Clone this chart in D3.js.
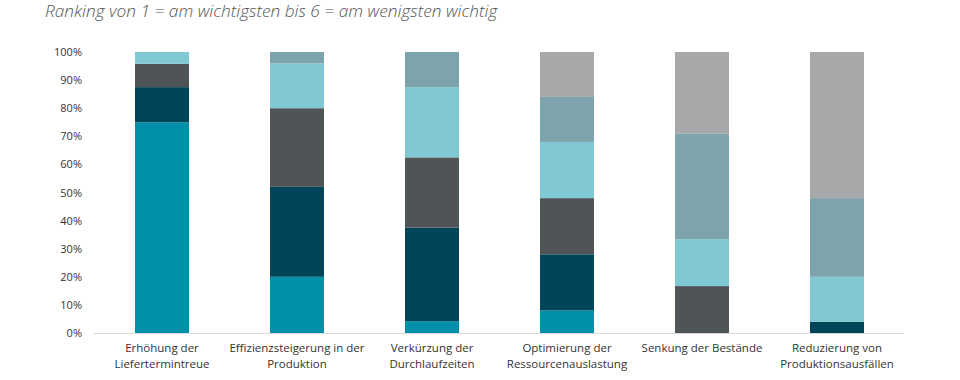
<!DOCTYPE html>
<html>
<head>
<meta charset="utf-8">
<script src="https://cdn.jsdelivr.net/npm/d3@7"></script>
<style>
  body { margin: 0; background: #fff; }
  svg { display: block; }
  .tick text { font-family: "Open Sans", sans-serif; font-size: 11px; fill: #333; }
  .xlabel { font-family: "Open Sans", sans-serif; font-size: 11.5px; fill: #333; }
  .title { font-family: "Open Sans", sans-serif; font-style: italic; font-weight: 300; font-size: 17.3px; fill: #555; }
</style>
</head>
<body>
<div id="chart"></div>
<script>
// Chart size
var svgWidth = 960;
var svgHeight = 380;

// Categories (two-line labels)
var categories = [
  ["Erhöhung der", "Liefertermintreue"],
  ["Effizienzsteigerung in der", "Produktion"],
  ["Verkürzung der", "Durchlaufzeiten"],
  ["Optimierung der", "Ressourcenauslastung"],
  ["Senkung der Bestände"],
  ["Reduzierung von", "Produktionsausfällen"]
];

// Share of each rank (in %), one array per rank
var rank1 = [75.0, 20, 4.2, 8, 0, 0];
var rank2 = [12.5, 32, 33.3, 20, 0, 4];
var rank3 = [8.3, 28, 25.0, 20, 16.7, 0];
var rank4 = [4.2, 16, 25.0, 20, 16.7, 16];
var rank5 = [0, 4, 12.5, 16, 37.5, 28];
var rank6 = [0, 0, 0, 16, 29.1, 52];

var rankKeys = ["r1", "r2", "r3", "r4", "r5", "r6"];
var rankColors = ["#0091a9", "#004558", "#4f5457", "#80c8d4", "#7da3ad", "#a6a8aa"];

var yTicks = [0, 10, 20, 30, 40, 50, 60, 70, 80, 90, 100];

// Build rows for the stack
var tableData = categories.map(function(c, i) {
  return {
    idx: i,
    r1: rank1[i], r2: rank2[i], r3: rank3[i],
    r4: rank4[i], r5: rank5[i], r6: rank6[i]
  };
});

var svg = d3.select("#chart")
  .append("svg")
  .attr("width", svgWidth)
  .attr("height", svgHeight);

// Scales
var xScale = d3.scaleBand()
  .domain(d3.range(categories.length))
  .range([94.5, 904.5])
  .paddingInner(0.6)
  .paddingOuter(0.3);

var yScale = d3.scaleLinear()
  .domain([0, 100])
  .range([333, 52]);

// Title
svg.append("text")
  .attr("class", "title")
  .attr("x", 45)
  .attr("y", 17)
  .text("Ranking von 1 = am wichtigsten bis 6 = am wenigsten wichtig");

// Y axis (labels only)
var leftAxis = d3.axisLeft(yScale)
  .tickValues(yTicks)
  .tickFormat(function(d) { return d + "%"; })
  .tickSize(0)
  .tickPadding(0);

var yAxis = svg.append("g")
  .attr("transform", "translate(82,0)")
  .call(leftAxis);
yAxis.select(".domain").remove();

// Stacked bars
var stacked = d3.stack().keys(rankKeys)(tableData);

svg.append("g")
  .selectAll("g")
  .data(stacked)
  .enter()
  .append("g")
  .attr("fill", function(d, i) { return rankColors[i]; })
  .selectAll("rect")
  .data(function(d) { return d; })
  .enter()
  .append("rect")
  .attr("x", function(d) { return xScale(d.data.idx); })
  .attr("width", xScale.bandwidth())
  .attr("y", function(d) { return yScale(d[1]); })
  .attr("height", function(d) { return yScale(d[0]) - yScale(d[1]); });

// Baseline
svg.append("line")
  .attr("x1", 94)
  .attr("x2", 904)
  .attr("y1", yScale(0) + 0.5)
  .attr("y2", yScale(0) + 0.5)
  .attr("stroke", "#d9d9d9")
  .attr("stroke-width", 1);

// Category labels
var labels = svg.append("g")
  .selectAll("text")
  .data(categories)
  .enter()
  .append("text")
  .attr("class", "xlabel")
  .attr("text-anchor", "middle")
  .attr("x", function(d, i) { return xScale(i) + xScale.bandwidth() / 2; })
  .attr("y", 352);

labels.selectAll("tspan")
  .data(function(d) { return d; })
  .enter()
  .append("tspan")
  .attr("x", function() { return d3.select(this.parentNode).attr("x"); })
  .attr("dy", function(d, i) { return i === 0 ? 0 : 16; })
  .text(function(d) { return d; });
</script>
</body>
</html>
